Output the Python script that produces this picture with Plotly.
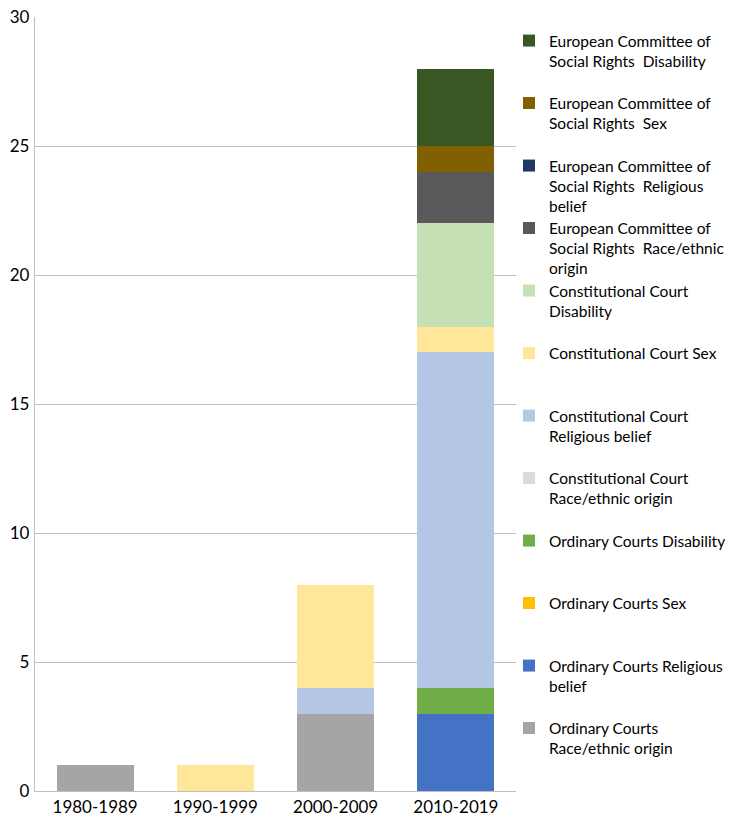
import plotly.graph_objects as go

decades = ["1980-1989", "1990-1999", "2000-2009", "2010-2019"]

# series, bottom of the stack first
oc_race = [1, 0, 3, 0]
oc_religion = [0, 0, 0, 3]
oc_sex = [0, 0, 0, 0]
oc_disability = [0, 0, 0, 1]
cc_race = [0, 0, 0, 0]
cc_religion = [0, 0, 1, 13]
cc_sex = [0, 1, 4, 1]
cc_disability = [0, 0, 0, 4]
ecsr_race = [0, 0, 0, 2]
ecsr_religion = [0, 0, 0, 0]
ecsr_sex = [0, 0, 0, 1]
ecsr_disability = [0, 0, 0, 3]

series = [
    ("Ordinary Courts<br>Race/ethnic origin", oc_race, "#A5A5A5"),
    ("Ordinary Courts Religious<br>belief", oc_religion, "#4472C4"),
    ("Ordinary Courts Sex", oc_sex, "#FFC000"),
    ("Ordinary Courts Disability", oc_disability, "#70AD47"),
    ("Constitutional Court<br>Race/ethnic origin", cc_race, "#DBDBDB"),
    ("Constitutional Court<br>Religious belief", cc_religion, "#B4C7E7"),
    ("Constitutional Court Sex", cc_sex, "#FFE699"),
    ("Constitutional Court<br>Disability", cc_disability, "#C5E0B4"),
    ("European Committee of<br>Social Rights\u00a0 Race/ethnic<br>origin", ecsr_race, "#595959"),
    ("European Committee of<br>Social Rights\u00a0 Religious<br>belief", ecsr_religion, "#203864"),
    ("European Committee of<br>Social Rights\u00a0 Sex", ecsr_sex, "#806000"),
    ("European Committee of<br>Social Rights\u00a0 Disability", ecsr_disability, "#385723"),
]

fig = go.Figure()
legends = {}
n = len(series)
for j, (name, values, color) in enumerate(series):
    # one small legend per series so the entries sit on an even
    # vertical pitch, like the Excel original (top entry = last series)
    slot = n - 1 - j
    key = "legend" if slot == 0 else "legend%d" % (slot + 1)
    top_px = 16 + 62.5 * slot
    legends[key] = dict(
        xref="container",
        yref="container",
        x=501 / 733,
        y=1 - top_px / 827,
        xanchor="left",
        yanchor="top",
        valign="top",
        itemwidth=30,
        bgcolor="rgba(0,0,0,0)",
        font=dict(size=15.5, color="#000000"),
    )
    fig.add_trace(
        go.Bar(
            x=decades,
            y=values,
            name=name,
            legend=key,
            showlegend=True,
            marker=dict(color=color, line=dict(width=0)),
            hoverinfo="x+y",
        )
    )

fig.update_layout(
    barmode="stack",
    bargap=0.36,
    width=733,
    height=827,
    showlegend=True,
    # the page body adds an 8px offset, so margins are shifted to compensate
    margin=dict(l=27, r=225, t=9, b=44, autoexpand=False),
    plot_bgcolor="white",
    paper_bgcolor="white",
    font=dict(family="Lato, Open Sans, sans-serif", size=17, color="#000000"),
    xaxis=dict(
        showline=True,
        linecolor="#BFBFBF",
        linewidth=1.3,
        ticks="",
        tickfont=dict(size=17),
        automargin=False,
    ),
    yaxis=dict(
        range=[0, 30],
        dtick=5,
        showgrid=True,
        gridcolor="#BFBFBF",
        gridwidth=1.2,
        showline=True,
        linecolor="#BFBFBF",
        linewidth=1.3,
        zeroline=False,
        ticks="",
        tickfont=dict(size=17),
        ticklabelstandoff=1,
        ticklabeloverflow="allow",
        automargin=False,
    ),
    **legends,
)

fig.write_html("out.html")
